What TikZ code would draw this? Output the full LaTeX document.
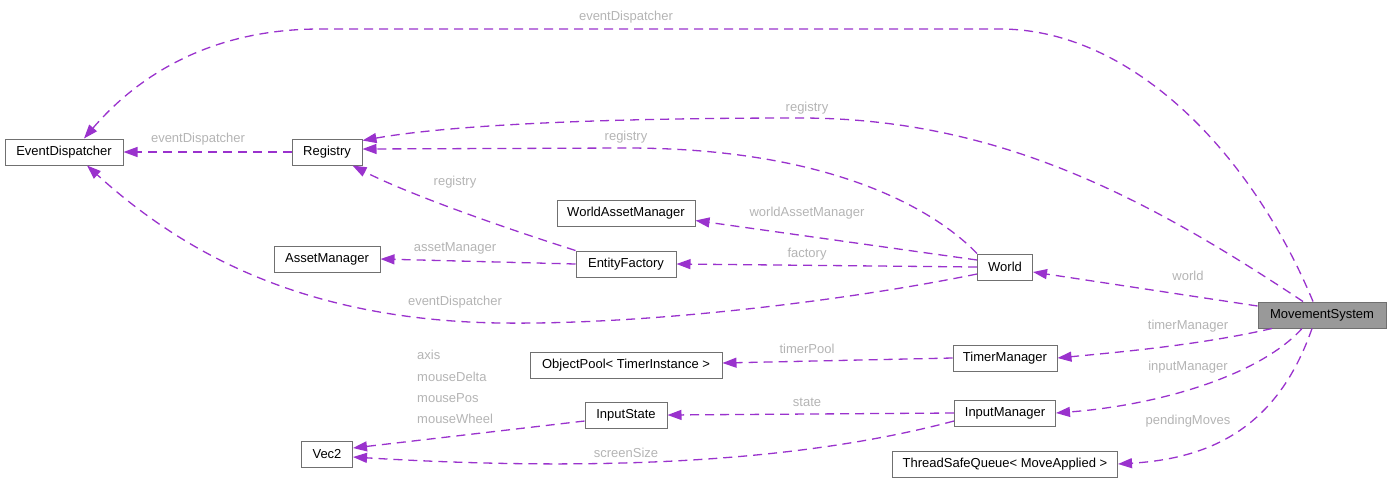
\documentclass[tikz,border=0pt]{standalone}
\usepackage{fontspec}
\setmainfont{Liberation Sans}
\usetikzlibrary{arrows.meta}
\definecolor{edgecol}{HTML}{9A32CD}
\definecolor{boxline}{HTML}{707070}
\definecolor{rootfill}{HTML}{999999}
\definecolor{lblcol}{HTML}{B4B4B4}

\begin{document}
\begin{tikzpicture}[x=1pt,y=-1pt,
  cls/.style={draw=boxline, line width=1pt, fill=white, minimum height=26pt,
    inner xsep=2pt, inner ysep=0pt, font=\fontsize{13}{15}\selectfont, text=black},
  root/.style={cls, fill=rootfill},
  dep/.style={draw=edgecol, line width=1.3pt, dash pattern=on 9pt off 6pt,
    -{Triangle[length=14pt,width=10pt,fill=edgecol]}},
  lbl/.style={text=lblcol, font=\fontsize{13}{15}\selectfont, inner sep=0pt}]

\useasboundingbox (0,0) rectangle (1391,483);

% classes
\node[cls, minimum width=118pt] (ed)  at (64,152)   {EventDispatcher};
\node[cls, minimum width=70pt]  (reg) at (327,152)  {Registry};
\node[cls, minimum width=138pt] (wam) at (626,213)  {WorldAssetManager};
\node[cls, minimum width=106pt] (am)  at (327,259)  {AssetManager};
\node[cls, minimum width=100pt] (ef)  at (626,264)  {EntityFactory};
\node[cls, minimum width=55pt]  (wld) at (1005,267) {World};
\node[root, minimum width=128pt] (ms) at (1322,315) {MovementSystem};
\node[cls, minimum width=104pt] (tm)  at (1005,358) {TimerManager};
\node[cls, minimum width=192pt] (op)  at (626,365)  {ObjectPool< TimerInstance >};
\node[cls, minimum width=82pt]  (is)  at (626,415)  {InputState};
\node[cls, minimum width=101pt] (im)  at (1005,413) {InputManager};
\node[cls, minimum width=51pt]  (v)   at (327,454)  {Vec2};
\node[cls, minimum width=225pt] (tsq) at (1005,464) {ThreadSafeQueue< MoveApplied >};

% dependencies
\draw[dep] ([xshift=-9pt]ms.north) .. controls (1250,150) and (1130,29) .. (1000,29)
  -- (320,29) .. controls (200,29) and (130,85) .. ([xshift=20pt]ed.north);
\draw[dep] ([xshift=-19pt]ms.north) .. controls (1150,200) and (1000,118) .. (800,118)
  .. controls (600,118) and (450,125) .. ([yshift=-2pt]reg.north east);
\draw[dep] (wld.north west) .. controls (940,215) and (840,148) .. (626,148)
  -- ([yshift=3pt]reg.east);
\draw[dep] (reg.west) -- (ed.east);
\draw[dep] (ef.north west) .. controls (480,220) and (400,190) .. ([xshift=-10pt]reg.south east);
\draw[dep] ([yshift=7pt]wld.west) -- ([yshift=6pt]wam.south east);
\draw[dep] (wld.west) -- (ef.east);
\draw[dep] (ef.west) -- (am.east);
\draw[dep] ([yshift=-7pt]wld.west) .. controls (850,300) and (650,325) .. (500,323)
  .. controls (300,320) and (180,250) .. ([xshift=23pt]ed.south);
\draw[dep] ([yshift=9pt]ms.west) -- ([yshift=-5pt]wld.east);
\draw[dep] ([xshift=-50pt]ms.south) .. controls (1200,345) and (1120,352) .. (tm.east);
\draw[dep] (tm.west) -- ([yshift=2pt]op.east);
\draw[dep] ([xshift=-20pt]ms.south) .. controls (1260,375) and (1160,405) .. (im.east);
\draw[dep] (im.west) -- (is.east);
\draw[dep] ([yshift=-6pt]is.west) -- ([yshift=6pt]v.east);
\draw[dep] ([yshift=-8pt]im.west) .. controls (800,462) and (600,472) .. ([yshift=-3pt]v.east);
\draw[dep] ([xshift=-10pt]ms.south) .. controls (1280,420) and (1220,458) .. (tsq.east);

% member names
\node[lbl] (l1)  at (626,17)  {eventDispatcher};
\node[lbl] (l2)  at (807,108) {registry};
\node[lbl] (l3)  at (626,137) {registry};
\node[lbl] (l4)  at (198,139) {eventDispatcher};
\node[lbl] (l5)  at (455,182) {registry};
\node[lbl] (l6)  at (807,213) {worldAssetManager};
\node[lbl] (l7)  at (455,248) {assetManager};
\node[lbl] (l8)  at (807,254) {factory};
\node[lbl] (l9)  at (455,302) {eventDispatcher};
\node[lbl] (l10) at (1188,276) {world};
\node[lbl] (l11) at (1188,326) {timerManager};
\node[lbl] (l12) at (807,349) {timerPool};
\node[lbl] (l13) at (1188,367) {inputManager};
\node[lbl] (l14) at (807,402) {state};
\node[lbl, anchor=west] (l15) at (417,355) {axis};
\node[lbl, anchor=west] (l16) at (417,377) {mouseDelta};
\node[lbl, anchor=west] (l17) at (417,398) {mousePos};
\node[lbl, anchor=west] (l18) at (417,419) {mouseWheel};
\node[lbl] (l19) at (626,453) {screenSize};
\node[lbl] (l20) at (1188,421) {pendingMoves};
\end{tikzpicture}
\end{document}
